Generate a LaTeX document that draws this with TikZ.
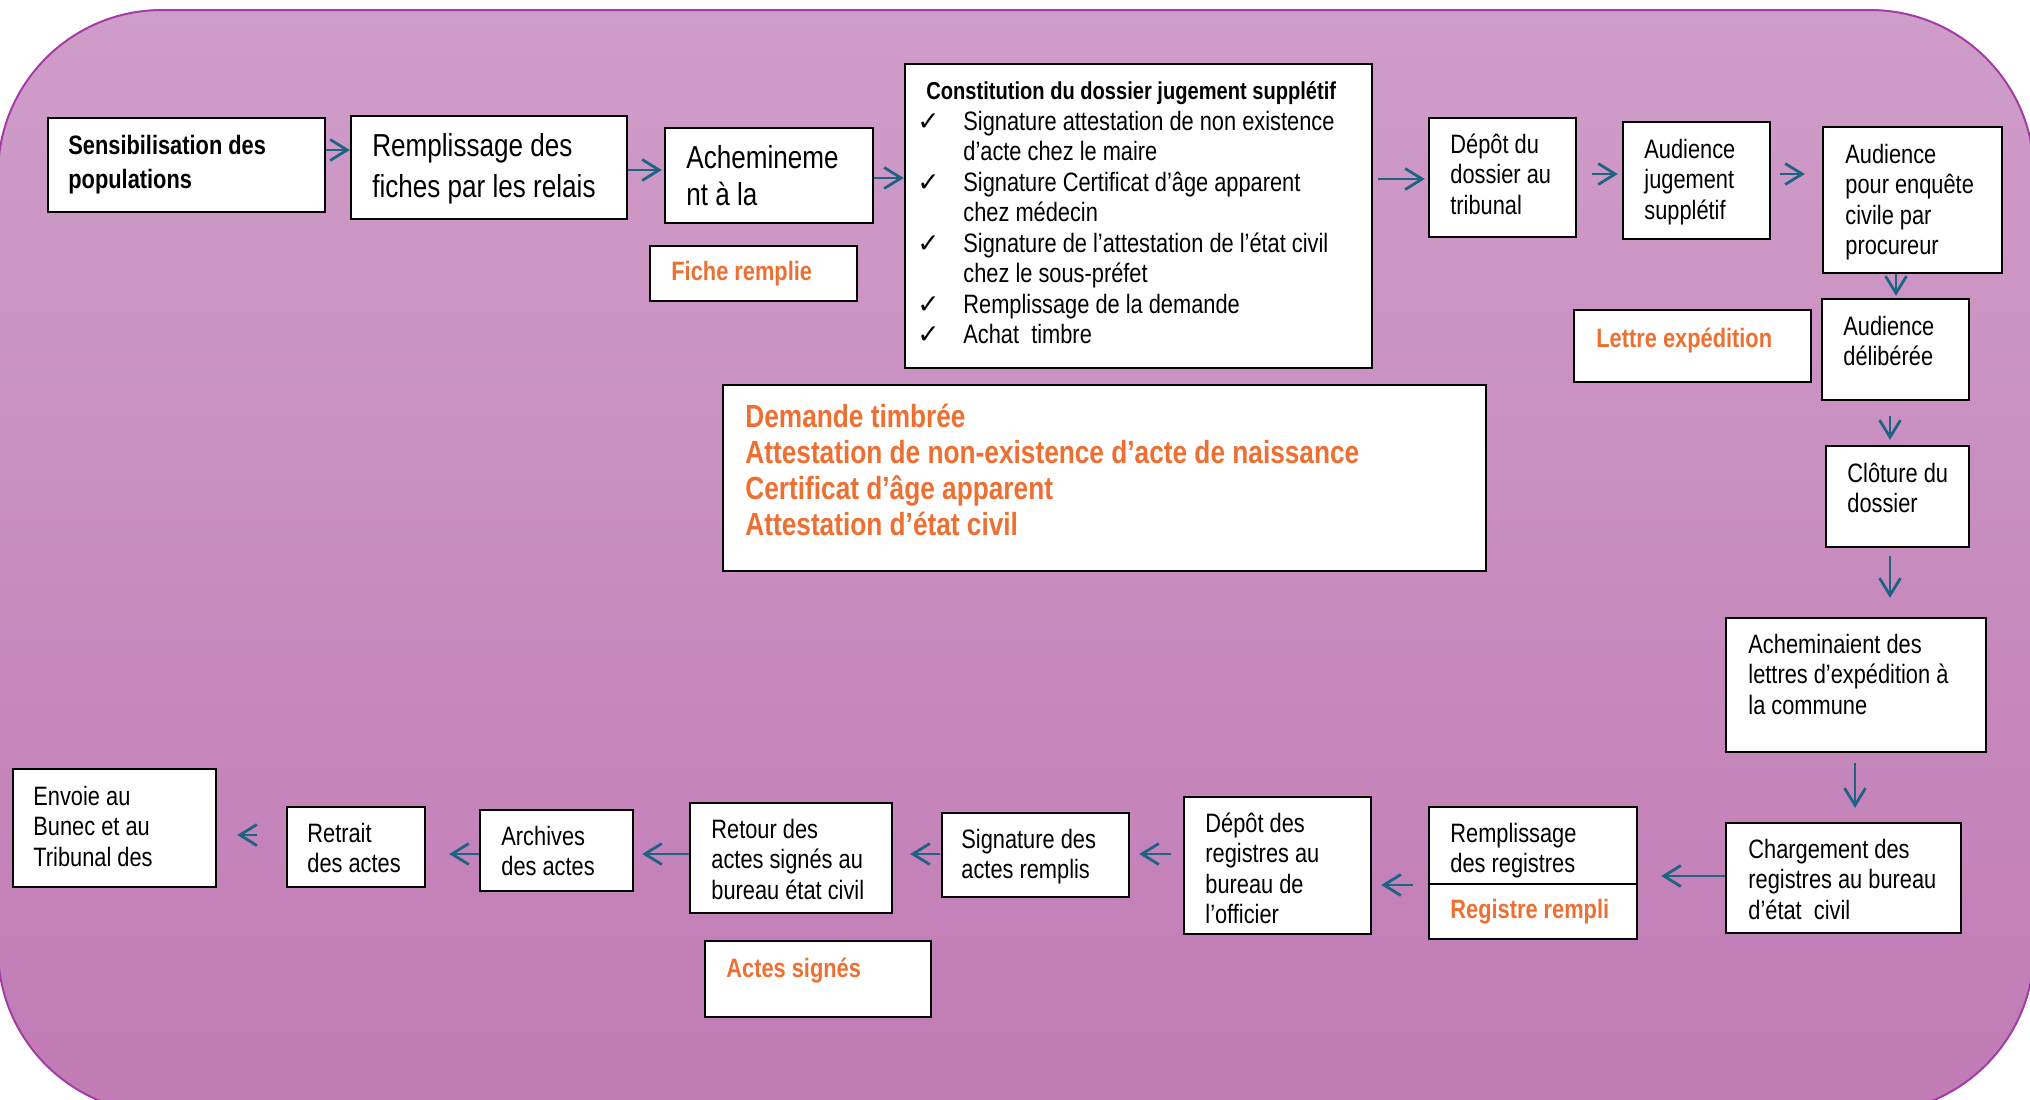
\documentclass[tikz,border=0pt]{standalone}
\usepackage{fontspec}
\setmainfont{Liberation Sans}[FakeStretch=0.82]
\newfontfamily\symfont{DejaVu Sans}
\usetikzlibrary{arrows.meta,calc,fit}
\definecolor{bgtop}{RGB}{207,157,201}
\definecolor{bgbot}{RGB}{193,123,181}
\definecolor{bgline}{RGB}{165,60,165}
\definecolor{orng}{RGB}{237,112,50}
\definecolor{arrc}{RGB}{30,100,130}
\newcommand{\ml}[1]{\begin{tabular}[t]{@{}l@{}}#1\end{tabular}}
\newcommand{\ck}{\makebox[23pt][l]{\symfont ✓}}
\tikzset{
 box/.style={draw=black,line width=1.2pt,fill=white,inner sep=0pt},
 txt/.style={inner sep=0pt,anchor=base west,font=\fontsize{13.3}{15.25}\selectfont},
 big/.style={txt,font=\fontsize{15.9}{20.5}\selectfont},
 otxt/.style={txt,text=orng,font=\fontsize{13.3}{15.25}\selectfont\bfseries},
 arr/.style={draw=arrc,line width=1.4pt,-{Straight Barb[length=8.5pt,width=10.5pt]}},
}
\begin{document}
\begin{tikzpicture}[x=0.5pt,y=-0.5pt]
\useasboundingbox (0,0) rectangle (2030,1099);
\begin{scope}
\clip (0,0) rectangle (2030,1099);
\path[draw=bgline,line width=1pt,top color=bgtop,bottom color=bgbot,rounded corners=82pt] (-2,10) rectangle (2034,1113);
\end{scope}

% boxes
\node[box,fit={(48,118)(325,212)}] (sens) {};
\node[box,fit={(351,116)(627,219)}] (remp) {};
\node[box,fit={(665,128)(873,223)}] (ache) {};
\node[box,fit={(650,246)(857,301)}] (fiche) {};
\node[box,fit={(905,64)(1372,368)}] (cons) {};
\node[box,fit={(1429,118)(1576,237)}] (depot) {};
\node[box,fit={(1623,122)(1770,239)}] (audj) {};
\node[box,fit={(1823,127)(2002,273)}] (aude) {};
\node[box,fit={(1574,310)(1811,382)}] (lettre) {};
\node[box,fit={(1822,299)(1969,400)}] (audd) {};
\node[box,fit={(1826,446)(1969,547)}] (clot) {};
\node[box,fit={(723,385)(1486,571)}] (dem) {};
\node[box,fit={(1726,618)(1986,752)}] (achl) {};
\node[box,fit={(1726,823)(1961,933)}] (charg) {};
\node[box,fit={(1429,807)(1637,884)}] (rreg) {};
\node[box,fit={(1429,884)(1637,939)}] (rrem) {};
\node[box,fit={(1184,797)(1371,934)}] (dreg) {};
\node[box,fit={(942,813)(1129,897)}] (sig) {};
\node[box,fit={(690,803)(892,913)}] (ret) {};
\node[box,fit={(480,810)(633,891)}] (arch) {};
\node[box,fit={(287,807)(425,887)}] (retr) {};
\node[box,fit={(13,769)(216,887)}] (env) {};
\node[box,fit={(705,941)(931,1017)}] (actes) {};

% texts
\node[txt,font=\fontsize{13.3}{17}\selectfont\bfseries] (senst) at (68,154) {\ml{Sensibilisation des\\populations}};
\node[big] (rempt) at (372,156) {\ml{Remplissage des\\fiches par les relais}};
\node[big,font=\fontsize{15.9}{18.5}\selectfont] (achet) at (686,168) {\ml{Achemineme\\nt à la}};
\node[otxt] (fichet) at (671,280) {Fiche remplie};
\node[txt,font=\fontsize{12.25}{15.25}\selectfont\bfseries] (const) at (926,99) {Constitution du dossier jugement supplétif};
\node[txt] (consl) at (917,130) {\ml{\ck Signature attestation de non existence\\\hspace*{23pt}d’acte chez le maire\\\ck Signature Certificat d’âge apparent\\\hspace*{23pt}chez médecin\\\ck Signature de l’attestation de l’état civil\\\hspace*{23pt}chez le sous-préfet\\\ck Remplissage de la demande\\\ck Achat\ \ timbre}};
\node[txt] (depott) at (1450,153) {\ml{Dépôt du\\dossier au\\tribunal}};
\node[txt] (audjt) at (1644,158) {\ml{Audience\\jugement\\supplétif}};
\node[txt] (audet) at (1845,163) {\ml{Audience\\pour enquête\\civile par\\procureur}};
\node[otxt] (lettret) at (1596,347) {Lettre expédition};
\node[txt] (auddt) at (1843,335) {\ml{Audience\\délibérée}};
\node[txt] (clott) at (1847,482) {\ml{Clôture du\\dossier}};
\node[otxt,font=\fontsize{16}{18}\selectfont\bfseries] (demt) at (745,427) {\ml{Demande timbrée\\Attestation de non-existence d’acte de naissance\\Certificat d’âge apparent\\Attestation d’état civil}};
\node[txt] (achlt) at (1748,653) {\ml{Acheminaient des\\lettres d’expédition à\\la commune}};
\node[txt] (chargt) at (1748,858) {\ml{Chargement des\\registres au bureau\\d’état\ \ civil}};
\node[txt] (rregt) at (1450,842) {\ml{Remplissage\\des registres}};
\node[otxt] (rremt) at (1450,918) {Registre rempli};
\node[txt] (dregt) at (1205,832) {\ml{Dépôt des\\registres au\\bureau de\\l’officier}};
\node[txt] (sigt) at (961,848) {\ml{Signature des\\actes remplis}};
\node[txt] (rett) at (711,838) {\ml{Retour des\\actes signés au\\bureau état civil}};
\node[txt] (archt) at (501,845) {\ml{Archives\\des actes}};
\node[txt] (retrt) at (307,842) {\ml{Retrait\\des actes}};
\node[txt] (envt) at (33,805) {\ml{Envoie au\\Bunec et au\\Tribunal des}};
\node[otxt] (actest) at (726,977) {Actes signés};

% connectors
\draw[arr] ($(sens.east)+(0,-15)$) -- ($(remp.west)+(0,-17.5)$);
\draw[arr] ($(remp.east)+(0,2.5)$) -- ($(ache.west)+(-2,-5.5)$);
\draw[arr] ($(ache.east)+(0,2.5)$) -- ($(cons.west)+(0,-38)$);
\draw[arr] ($(cons.east)+(5,-37)$) -- ($(depot.west)+(-3,1.5)$);
\draw[arr] ($(depot.east)+(15,-3.5)$) -- ($(audj.west)+(-4,-6.5)$);
\draw[arr] ($(audj.east)+(9,-6.5)$) -- ($(aude.west)+(-17,-26)$);
\draw[arr] ($(aude.south)+(-16.5,0)$) -- ($(audd.north)+(0.5,-2)$);
\draw[arr] ($(audd.south)+(-5.5,15)$) -- ($(clot.north)+(-7.5,-5)$);
\draw[arr] ($(clot.south)+(-7.5,8)$) -- ($(achl.north)+(34,-19)$);
\draw[arr] ($(achl.south)+(-1,10)$) -- ($(charg.north)+(11.5,-14)$);
\draw[arr] ($(charg.west)+(0,-2)$) -- ($(rreg.east)+(23,30.5)$);
\draw[arr] ($(rreg.west)+(-15,39.5)$) -- ($(dreg.east)+(9,19.5)$);
\draw[arr] ($(dreg.west)+(-12,-11.5)$) -- ($(sig.east)+(9,-1)$);
\draw[arr] ($(sig.west)+(-1,-1)$) -- ($(ret.east)+(17,-4)$);
\draw[arr] ($(ret.west)+(0,-4)$) -- ($(arch.east)+(8,3.5)$);
\draw[arr] ($(arch.west)+(0,3.5)$) -- ($(retr.east)+(23,7)$);
\draw[arr] ($(retr.west)+(-29,-12)$) -- ($(env.east)+(20,7)$);
\end{tikzpicture}
\end{document}
